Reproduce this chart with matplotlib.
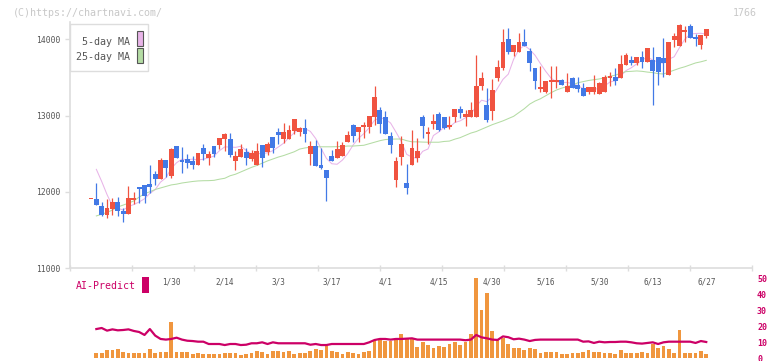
"""Daily candles for 1766 with moving averages and the AI-Predict panel."""

import matplotlib
matplotlib.use("Agg")
import matplotlib.pyplot as plt
from matplotlib.patches import Rectangle
import numpy as np
import pandas as pd

# ---- data ----
first_day = "2025-01-08"
last_day = "2025-06-27"
jp_holidays = ["2025-01-13", "2025-02-11", "2025-02-24", "2025-03-20",
               "2025-04-29", "2025-05-05", "2025-05-06"]
label_days = ["2025-01-30", "2025-02-14", "2025-03-03", "2025-03-17", "2025-04-01",
              "2025-04-15", "2025-04-30", "2025-05-16", "2025-05-30", "2025-06-13",
              "2025-06-27"]
label_text = ["1/30", "2/14", "3/3", "3/17", "4/1", "4/15", "4/30", "5/16",
              "5/30", "6/13", "6/27"]

opens = [11900, 11905, 11813, 11700, 11778, 11866, 11748, 11713, 11896, 12058,
         12084, 12102, 12233, 12167, 12417, 12207, 12600, 12417, 12426, 12404,
         12356, 12574, 12447, 12600, 12613, 12692, 12692, 12404, 12460, 12522,
         12430, 12351, 12613, 12522, 12718, 12784, 12697, 12697, 12797, 12788,
         12836, 12495, 12600, 12351, 12286, 12469, 12448, 12474, 12657, 12876,
         12789, 12845, 12854, 12985, 13073, 12981, 12732, 12155, 12461, 12115,
         12356, 12448, 12981, 12762, 12894, 13020, 12981, 12850, 12985, 13086,
         12985, 12985, 12985, 13393, 13139, 13064, 13493, 13620, 14005, 13830,
         13828, 13965, 13843, 13624, 13349, 13309, 13441, 13440, 13467, 13309,
         13493, 13401, 13362, 13315, 13315, 13285, 13309, 13493, 13508, 13493,
         13663, 13729, 13694, 13768, 13702, 13729, 13768, 13755, 13532, 13991,
         13912, 14096, 14175, 14030, 13925, 14043]
highs = [11900, 12111, 11870, 11909, 11923, 11931, 11791, 12076, 11997, 12058,
         12084, 12351, 12272, 12439, 12417, 12574, 12600, 12592, 12495, 12470,
         12509, 12631, 12539, 12600, 12705, 12775, 12775, 12535, 12626, 12574,
         12548, 12644, 12613, 12657, 12718, 12841, 12898, 12876, 12955, 12850,
         12955, 12666, 12679, 12574, 12286, 12548, 12666, 12649, 12797, 12894,
         12845, 12911, 12994, 13388, 13117, 13055, 12784, 12456, 12732, 12364,
         12806, 12706, 13007, 12854, 13020, 13042, 12981, 12990, 13086, 13130,
         13073, 13182, 13794, 13572, 13357, 13475, 13729, 14136, 14149, 13926,
         14081, 14136, 13886, 13624, 13650, 13454, 13650, 13650, 13480, 13560,
         13506, 13506, 13427, 13375, 13530, 13444, 13532, 13576, 13626, 13795,
         13818, 13786, 13768, 13847, 13886, 13899, 13768, 14017, 13965, 14083,
         14201, 14175, 14201, 14070, 14057, 14135]
lows = [11900, 11822, 11682, 11660, 11700, 11682, 11608, 11713, 11840, 11857,
        11857, 11979, 12089, 12167, 12198, 12185, 12447, 12251, 12307, 12303,
        12356, 12412, 12356, 12460, 12561, 12535, 12460, 12286, 12460, 12351,
        12404, 12351, 12329, 12482, 12513, 12622, 12635, 12697, 12758, 12736,
        12653, 12351, 12338, 12303, 11879, 12408, 12448, 12474, 12657, 12649,
        12657, 12710, 12776, 12876, 12776, 12762, 12513, 12067, 12351, 11975,
        12356, 12395, 12701, 12631, 12828, 12793, 12824, 12819, 12911, 12972,
        12863, 12985, 12985, 13340, 12920, 12942, 13458, 13598, 13806, 13786,
        13828, 13917, 13587, 13349, 13311, 13292, 13231, 13357, 13401, 13309,
        13362, 13313, 13257, 13287, 13277, 13285, 13309, 13388, 13401, 13493,
        13663, 13663, 13663, 13624, 13702, 13138, 13401, 13506, 13532, 13899,
        13912, 13965, 14017, 13912, 13873, 14017]
closes = [11900, 11831, 11695, 11787, 11866, 11743, 11713, 11918, 11923, 12036,
          11949, 12067, 12167, 12417, 12316, 12561, 12447, 12395, 12382, 12356,
          12509, 12491, 12491, 12495, 12705, 12762, 12482, 12469, 12561, 12443,
          12509, 12535, 12447, 12626, 12578, 12749, 12784, 12806, 12955, 12836,
          12762, 12600, 12338, 12312, 12181, 12408, 12565, 12614, 12745, 12736,
          12845, 12876, 12994, 13243, 12894, 12762, 12614, 12404, 12627, 12050,
          12574, 12535, 12867, 12784, 12929, 12810, 12841, 12876, 13086, 13038,
          13016, 13073, 13388, 13493, 12942, 13335, 13637, 13965, 13836, 13921,
          13965, 13917, 13694, 13458, 13375, 13454, 13467, 13466, 13401, 13388,
          13362, 13348, 13257, 13374, 13374, 13427, 13506, 13519, 13453, 13676,
          13794, 13694, 13768, 13702, 13886, 13584, 13571, 13689, 13965, 14044,
          14188, 14122, 14017, 14010, 14057, 14135]
# closes before the first shown day, estimated from where the 5-day MA starts
prior_closes = [12490, 12650, 12600]

ma25 = [np.nan, 11683, 11705, 11730, 11760, 11800, 11825, 11850, 11880, 11930,
        11975, 12000, 12030, 12050, 12070, 12090, 12100, 12115, 12125, 12135,
        12142, 12145, 12146, 12150, 12165, 12177, 12210, 12230, 12260, 12290,
        12320, 12345, 12375, 12405, 12430, 12455, 12475, 12500, 12525, 12560,
        12575, 12585, 12590, 12590, 12590, 12590, 12592, 12595, 12600, 12600,
        12605, 12610, 12630, 12650, 12670, 12685, 12690, 12692, 12692, 12670,
        12655, 12655, 12652, 12650, 12650, 12650, 12660, 12665, 12690, 12710,
        12740, 12770, 12790, 12820, 12850, 12880, 12905, 12930, 12960, 12990,
        13040, 13090, 13150, 13190, 13220, 13260, 13300, 13335, 13360, 13380,
        13400, 13430, 13445, 13460, 13470, 13480, 13495, 13515, 13530, 13555,
        13576, 13580, 13585, 13580, 13570, 13563, 13550, 13545, 13570, 13595,
        13620, 13640, 13665, 13690, 13705, 13724]

volume = [np.nan, 3.1, 3.1, 5.2, 5.2, 5.8, 3.75, 3.1, 3.1, 3.1,
          3.1, 5.8, 3.1, 3.75, 3.75, 22.7, 3.75, 3.75, 3.75, 2.5,
          3.1, 2.5, 2.5, 2.5, 2.5, 3.1, 3.1, 3.1, 1.9, 2.5,
          3.1, 4.4, 3.75, 2.5, 4.4, 4.4, 3.75, 4.4, 2.5, 3.1,
          3.1, 4.4, 5.8, 5.2, 7.3, 4.4, 3.75, 2.5, 3.75, 3.1,
          2.5, 3.75, 4.4, 11.5, 12.1, 10.8, 10.8, 11.5, 15, 11.9,
          12.7, 6.9, 9.8, 8.1, 6.25, 7.3, 6.9, 8.75, 10.2, 8.1,
          10.2, 15, 50, 30, 40.6, 16.9, 11.5, 12.5, 8.5, 6.25,
          6, 5.2, 6.25, 5.6, 3.3, 3.75, 3.75, 3.75, 2.3, 2.7,
          3.1, 3.1, 3.75, 5.2, 3.75, 3.75, 3.1, 3.1, 2.3, 5,
          3.1, 3.1, 3.1, 3.75, 3.1, 8.5, 6.25, 7.3, 5.6, 3.1,
          17.5, 3.1, 3.1, 3.1, 4.4, 2.5]
ai_predict = [np.nan, 18.1, 18.75, 17.1, 17.9, 17.3, 17.5, 17.9, 16.9, 16.25,
              14.4, 18.1, 14.0, 11.9, 11.5, 11.9, 12.7, 11.5, 10.8, 10.6,
              10.2, 10.2, 8.75, 8.75, 8.75, 8.1, 8.75, 8.75, 8.1, 8.3,
              9.2, 9.2, 9.8, 8.75, 9.8, 9.2, 9.2, 9.2, 9.2, 9.2,
              9.2, 8.3, 8.75, 8.1, 8.1, 8.75, 8.75, 8.75, 8.75, 8.75,
              8.75, 8.75, 9.8, 11.25, 11.9, 11.9, 11.5, 11.9, 11.9, 12.1,
              12.3, 11.5, 11.5, 11.5, 11.5, 11.5, 11.5, 11.5, 11.5, 11.5,
              11.1, 11.5, 14.4, 12.9, 12.3, 11.5, 11.3, 13.5, 13.0, 11.7,
              12.1, 11.5, 10.6, 11.3, 11.5, 11.5, 11.5, 11.5, 11.5, 11.5,
              11.5, 11.5, 10.2, 10.4, 9.4, 10.2, 9.8, 10.0, 10.0, 10.2,
              10.2, 9.8, 9.2, 9.0, 9.4, 9.8, 8.75, 9.8, 10.2, 10.2,
              10.2, 10.2, 10.2, 9.4, 10.6, 10.0]

price_ticks = [11000, 12000, 13000, 14000]
predict_ticks = [0, 10, 20, 30, 40, 50]
ticker = "1766"

# ---- colours / layout ----
W, H = 772, 361
RED = "#f05340"
BLUE = "#4279e6"
PINK = "#e8b4e8"
GREEN = "#b4dca4"
ORANGE = "#f0963e"
CRIMSON = "#cc0066"
GRID = "#dddddd"
MONO = "DejaVu Sans Mono"

def box(left, top, right, bottom):
    return [left / W, 1 - bottom / H, (right - left) / W, (bottom - top) / H]

def fig_rect(left, top, right, bottom, **kw):
    return Rectangle((left / W, 1 - bottom / H), (right - left) / W, (bottom - top) / H,
                     transform=fig.transFigure, **kw)

days = pd.bdate_range(first_day, last_day, freq="C", holidays=jp_holidays)
x = np.arange(len(days))
label_idx = [days.get_loc(pd.Timestamp(d)) for d in label_days]

o = np.array(opens, dtype=float)
h = np.array(highs, dtype=float)
l = np.array(lows, dtype=float)
c = np.array(closes, dtype=float)
ma5 = pd.Series(prior_closes + closes).rolling(5).mean().to_numpy()[len(prior_closes):]

# candle i sits at pixel 91 + 5.35*i
xlim = ((70 - 91) / 5.35, (752 - 91) / 5.35)
ytop = 11000 + (268 - 22) / 76.23 * 1000

fig = plt.figure(figsize=(W / 100, H / 100), dpi=100)
ax2 = fig.add_axes(box(70, 278, 752, 358))
ax = fig.add_axes(box(70, 22, 752, 268))
ax.set_facecolor("none")
ax.set_zorder(2)

# candles
up = c >= o
colors = np.where(up, RED, BLUE)
ax.vlines(x, l, h, colors=colors, linewidth=0.9, zorder=3)
ax.bar(x, np.maximum(np.abs(c - o), 14), bottom=np.minimum(o, c), width=0.9,
       color=colors, linewidth=0, zorder=4)
ax.plot(x, ma5, color=PINK, lw=0.75, zorder=2)
ax.plot(x, ma25, color=GREEN, lw=0.75, zorder=2)

ax.set_xlim(*xlim)
ax.set_ylim(11000, ytop)
for side in ["top", "right"]:
    ax.spines[side].set_visible(False)
for side in ["left", "bottom"]:
    ax.spines[side].set_color(GRID)
    ax.spines[side].set_linewidth(1.2)

ax.set_yticks(price_ticks)
ax.set_yticklabels([str(t) for t in price_ticks], family=MONO, fontsize=5.8, color="#555555")
ax.tick_params(axis="y", length=3.6, width=1, color=GRID, pad=3.6)

ax.set_xticks(np.linspace(xlim[0], xlim[1], 12))
ax.tick_params(axis="x", which="major", direction="inout", length=5, width=1,
               color=GRID, labelbottom=False)
ax.set_xticks(label_idx, minor=True)
ax.set_xticklabels(label_text, minor=True, family=MONO, fontsize=5.5, color="#555555")
ax.tick_params(axis="x", which="minor", length=0, pad=7, labelbottom=True)

# AI-Predict panel
ax2.bar(x, volume, width=0.7, color=ORANGE, linewidth=0)
ax2.plot(x, ai_predict, color=CRIMSON, lw=1.6)
ax2.set_xlim(*xlim)
ax2.set_ylim(0, 50)
for side in ax2.spines:
    ax2.spines[side].set_visible(False)
ax2.set_xticks([])
ax2.yaxis.tick_right()
ax2.set_yticks(predict_ticks)
ax2.set_yticklabels([str(t) for t in predict_ticks], family=MONO, fontsize=6,
                    fontweight="bold", color=CRIMSON)
ax2.tick_params(axis="y", length=0, pad=3.6)

# header texts
fig.text(13 / W, 1 - 12.7 / H, "(C)https://chartnavi.com/", family=MONO, fontsize=7.2,
         color="#c8c8c8", ha="left", va="center")
fig.text(757 / W, 1 - 12.5 / H, ticker, family=MONO, fontsize=7.2,
         color="#c8c8c8", ha="right", va="center")

# legend box
fig.add_artist(fig_rect(70, 24, 148, 71, facecolor="white", edgecolor=GRID, lw=1, zorder=5))
fig.text(129.5 / W, 1 - 42.3 / H, "5-day MA", family=MONO, fontsize=7.2, color="#555555",
         ha="right", va="center", zorder=6)
fig.text(129.5 / W, 1 - 56.7 / H, "25-day MA", family=MONO, fontsize=7.2, color="#555555",
         ha="right", va="center", zorder=6)
fig.add_artist(fig_rect(137, 31.3, 142.5, 46, facecolor=PINK, edgecolor="#555555", lw=0.8, zorder=6))
fig.add_artist(fig_rect(137, 48.3, 142.5, 63, facecolor=GREEN, edgecolor="#555555", lw=0.8, zorder=6))

# AI-Predict label
fig.text(76 / W, 1 - 286 / H, "AI-Predict", family=MONO, fontsize=7.1, color=CRIMSON,
         ha="left", va="center")
fig.add_artist(fig_rect(142, 277.3, 149, 292.7, facecolor=CRIMSON, edgecolor="none"))

fig.savefig("out.png", dpi=100)
plt.close(fig)
